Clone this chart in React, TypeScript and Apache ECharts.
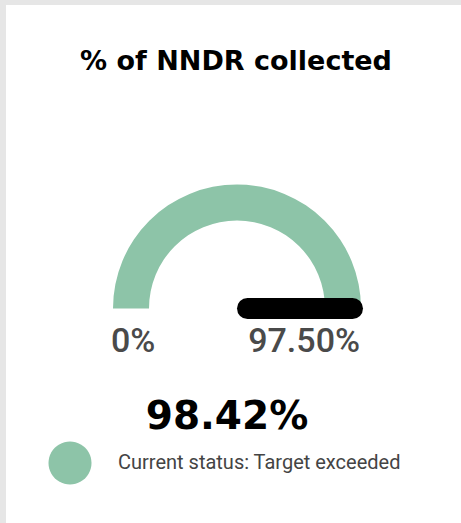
import React, { useEffect, useRef } from "react";
import * as echarts from "echarts";

const chartTitle = "% of NNDR collected";
const scaleBounds = [0, 97.5];
const scaleLabels = ["0%", "97.50%"];
const currentValues = [98.42];
const statusLabels = ["Current status: Target exceeded"];

const GREEN = "#8dc4a8";
const GREY_TEXT = "#4a4a4a";

export default function App() {
  const ref = useRef<HTMLDivElement>(null);
  useEffect(() => {
    if (!ref.current) return;
    const chart = echarts.init(ref.current, undefined, { renderer: "svg" });
    const cx = 237;
    const cy = 308.5;
    const R = 124;
    chart.setOption({
      animation: false,
      backgroundColor: "#ffffff",
      title: {
        text: chartTitle,
        left: 231,
        textAlign: "center",
        top: 42,
        textStyle: {
          fontFamily: "DejaVu Sans",
          fontWeight: "bold",
          fontSize: 27,
          color: "#000000",
        },
      },
      graphic: [
        { type: "rect", z: -10, shape: { x: 0, y: 0, width: 461, height: 5 }, style: { fill: "#e6e6e6" } },
        { type: "rect", z: -10, shape: { x: 0, y: 0, width: 6, height: 523 }, style: { fill: "#e6e6e6" } },
        {
          type: "text",
          left: 111,
          top: 323,
          style: { text: scaleLabels[0], font: "500 34px Roboto", fill: GREY_TEXT },
        },
        {
          type: "text",
          right: 101,
          top: 323,
          style: { text: scaleLabels[1], font: "500 34px Roboto", fill: GREY_TEXT, textAlign: "right" },
        },
        {
          type: "circle",
          shape: { cx: 70, cy: 463, r: 21.5 },
          style: { fill: GREEN },
        },
        {
          type: "text",
          x: 118,
          y: 462,
          style: {
            text: statusLabels[0],
            font: "20px Roboto",
            fill: "#444444",
            textVerticalAlign: "middle",
          },
        },
      ],
      series: [
        {
          type: "gauge",
          center: [cx, cy],
          radius: R,
          startAngle: 180,
          endAngle: 0,
          min: scaleBounds[0],
          max: scaleBounds[1],
          axisLine: {
            lineStyle: { width: 36, color: [[1, GREEN]] },
          },
          splitLine: { show: false },
          axisTick: { show: false },
          axisLabel: { show: false },
          pointer: {
            show: true,
            icon: "path://M0,10.5A10.5,10.5,0,0,1,21,10.5L21,115.5A10.5,10.5,0,0,1,0,115.5Z",
            length: 126,
            width: 21,
            offsetCenter: [0, 0],
            itemStyle: { color: "#000000" },
          },
          anchor: { show: false },
          title: { show: false },
          detail: {
            show: true,
            offsetCenter: [-10, 107],
            formatter: (v: number) => v.toFixed(2) + "%",
            fontFamily: "DejaVu Sans",
            fontWeight: "bold",
            fontSize: 39,
            color: "#000000",
            valueAnimation: false,
          },
          data: [{ value: currentValues[0] }],
        },
      ],
    });
    return () => chart.dispose();
  }, []);
  return (
    <div style={{ position: "fixed", left: 0, top: 0, width: 461, height: 523, background: "#ffffff" }}>
      <div ref={ref} style={{ width: 461, height: 523 }} />
    </div>
  );
}
